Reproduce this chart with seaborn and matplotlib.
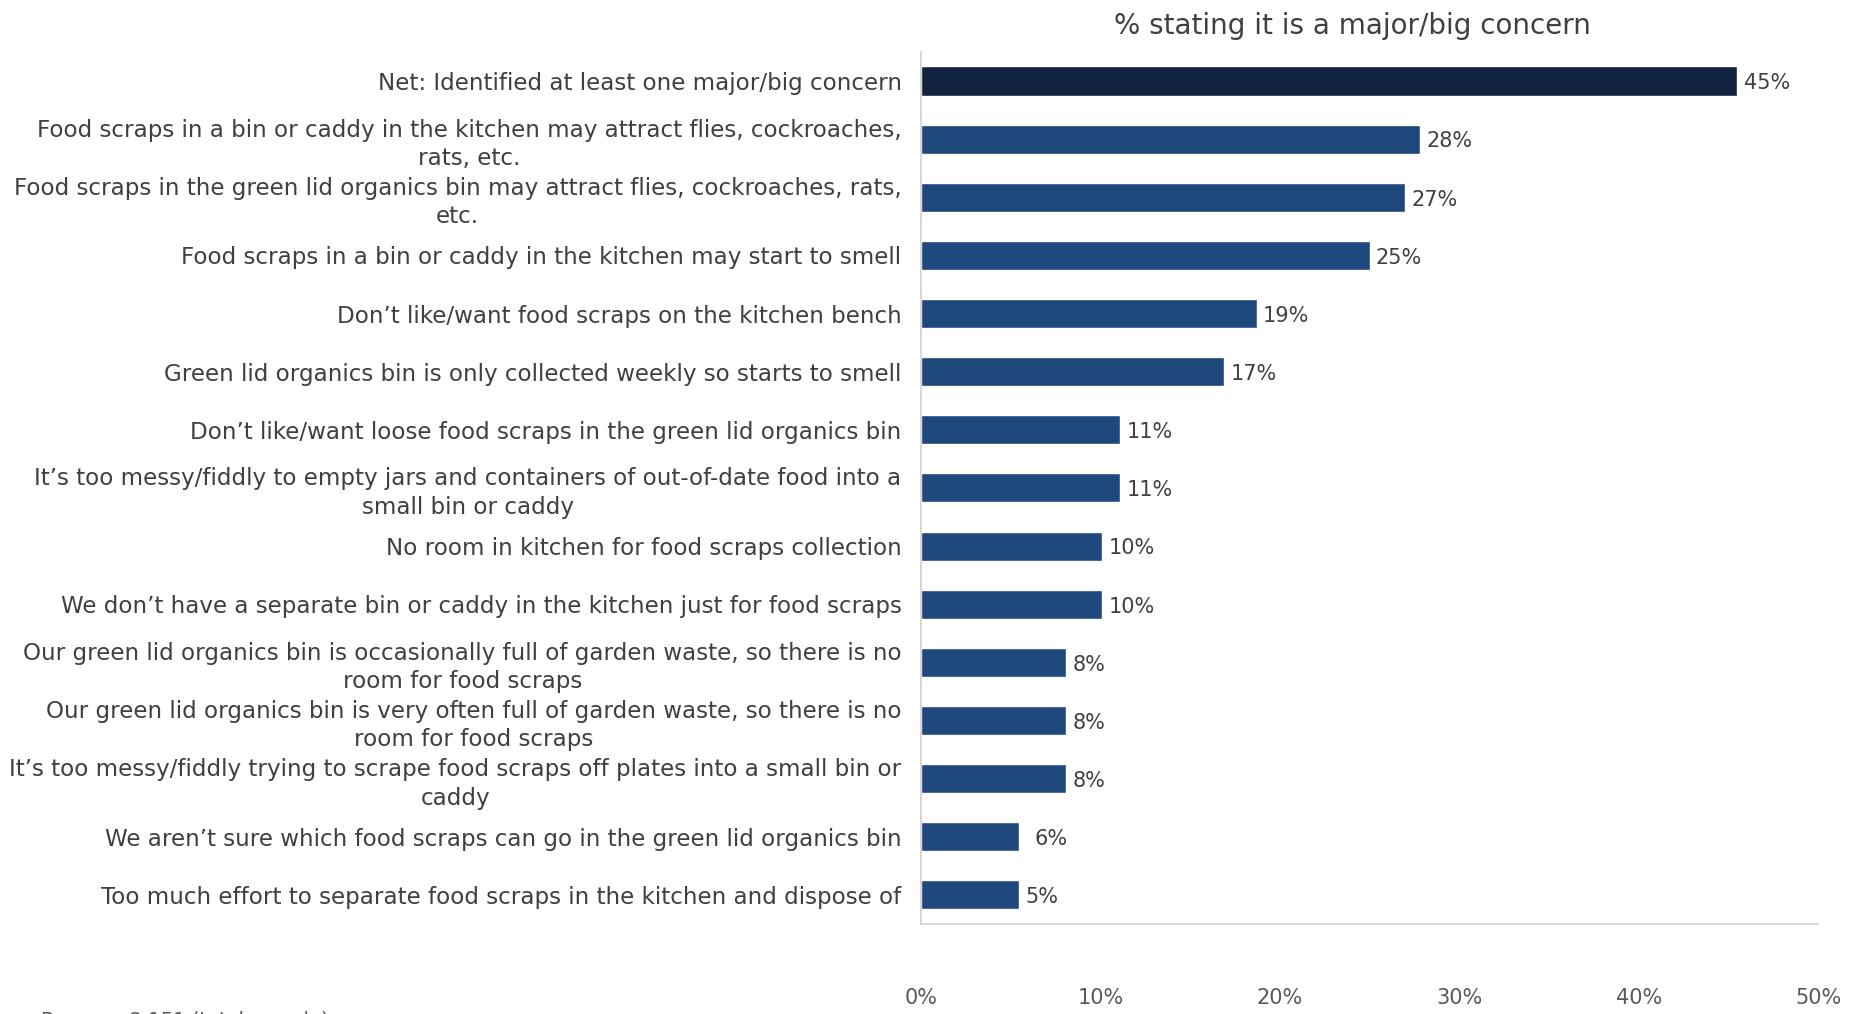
import matplotlib
matplotlib.use("Agg")
import matplotlib.pyplot as plt
import seaborn as sns
import pandas as pd

categories = [
    "Net: Identified at least one major/big concern",
    "Food scraps in a bin or caddy in the kitchen may attract flies, cockroaches,\nrats, etc.",
    "Food scraps in the green lid organics bin may attract flies, cockroaches, rats,\netc.",
    "Food scraps in a bin or caddy in the kitchen may start to smell",
    "Don\u2019t like/want food scraps on the kitchen bench",
    "Green lid organics bin is only collected weekly so starts to smell",
    "Don\u2019t like/want loose food scraps in the green lid organics bin",
    "It\u2019s too messy/fiddly to empty jars and containers of out-of-date food into a\nsmall bin or caddy",
    "No room in kitchen for food scraps collection",
    "We don\u2019t have a separate bin or caddy in the kitchen just for food scraps",
    "Our green lid organics bin is occasionally full of garden waste, so there is no\nroom for food scraps",
    "Our green lid organics bin is very often full of garden waste, so there is no\nroom for food scraps",
    "It\u2019s too messy/fiddly trying to scrape food scraps off plates into a small bin or\ncaddy",
    "We aren\u2019t sure which food scraps can go in the green lid organics bin",
    "Too much effort to separate food scraps in the kitchen and dispose of",
]
values = [45.5, 27.8, 27.0, 25.0, 18.7, 16.9, 11.1, 11.1, 10.1, 10.1, 8.1, 8.1, 8.1, 5.45, 5.45]
value_labels = ["45%", "28%", "27%", "25%", "19%", "17%", "11%", "11%", "10%", "10%",
                "8%", "8%", "8%", "6%", "5%"]
group = ["net"] + ["item"] * 14
x_ticks = [0, 10, 20, 30, 40, 50]
x_tick_labels = ["0%", "10%", "20%", "30%", "40%", "50%"]
title = "% stating it is a major/big concern"
footnote = "Base: n=2,151 (total sample)"

df = pd.DataFrame({"cat": categories, "val": values, "grp": group})

sns.set_theme(style="white")
plt.rcParams["font.family"] = ["DejaVu Sans"]

fig = plt.figure(figsize=(18.51, 10.14), dpi=100)
ax = fig.add_axes([0.4976, 0.0888, 0.4846, 0.86])

sns.barplot(data=df, x="val", y="cat", hue="grp", dodge=False,
            palette={"net": "#12243F", "item": "#1F497D"}, width=0.5,
            legend=False, ax=ax, saturation=1)

for i, (v, lab) in enumerate(zip(values, value_labels)):
    extra = 0.5 if lab == "6%" else 0.0
    ax.text(v + 0.35 + extra, i + 0.04, lab, va="center", ha="left", fontsize=15, color="#404040")

ax.set_xlim(0, 50)
ax.set_ylim(14.5, -0.5)
ax.set_xticks(x_ticks)
ax.set_xticklabels(x_tick_labels, fontsize=15, color="#595959")
ax.tick_params(axis="x", length=0, pad=46)
ax.tick_params(axis="y", length=0, pad=14)
ax.set_yticks(range(len(categories)))
ax.set_yticklabels(categories, fontsize=16.6, color="#404040",
                   multialignment="center", linespacing=1.3)
ax.set_xlabel("")
ax.set_ylabel("")
for s in ["top", "right"]:
    ax.spines[s].set_visible(False)
for s in ["left", "bottom"]:
    ax.spines[s].set_color("#D0D0D0")
    ax.spines[s].set_linewidth(1.2)

fig.text(0.7306, 0.988, title, ha="center", va="top", fontsize=20, color="#404040")
fig.text(0.022, 1 - 1011 / 1014, footnote, ha="left", va="top", fontsize=14, color="#595959")

fig.savefig("out.png", dpi=100)
